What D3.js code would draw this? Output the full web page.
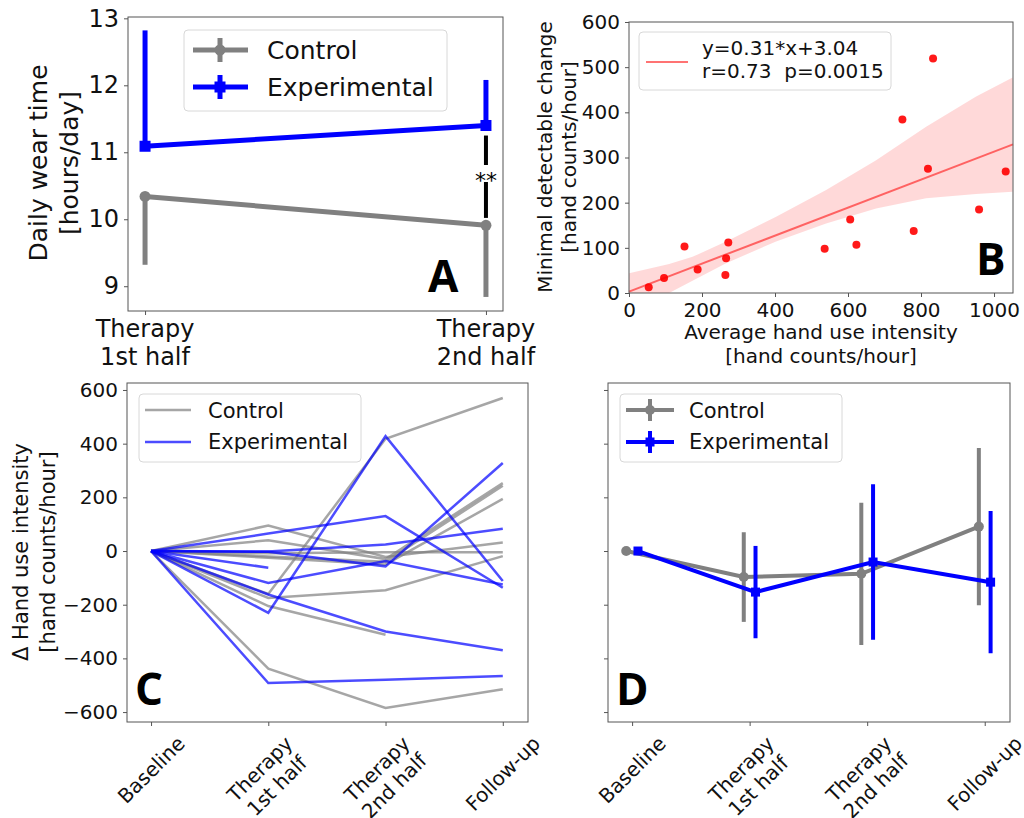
<!DOCTYPE html>
<html>
<head>
<meta charset="utf-8">
<script src="https://cdn.jsdelivr.net/npm/d3@7"></script>
<style>
body { margin: 0; background: #fff; }
svg { display: block; font-family: "DejaVu Sans", sans-serif; }
</style>
</head>
<body>
<svg id="fig" width="1024" height="818"></svg>
<script>
// panel A: daily wear time
const wearStages = ["Therapy\n1st half", "Therapy\n2nd half"];
const wearControl = [10.34, 9.91];
const wearControlErr = [1.02, 1.07];          // drawn below the mean only
const wearExperimental = [11.09, 11.40];
const wearExperimentalErr = [1.73, 0.68];     // drawn above the mean only
const wearTicks = [9, 10, 11, 12, 13];
const wearSignif = [10.02, 11.25];

// panel B: MDC vs intensity
const mdcX = [54, 96, 152, 188, 264, 266, 272, 536, 606, 623, 749, 780, 819, 833, 959, 1032];
const mdcY = [13, 33, 103, 52, 40, 77, 112, 98, 163, 107, 384, 137, 275, 519, 185, 269];
const fitSlope = 0.31, fitIntercept = 3.04;
const bandX = [0, 110, 174, 266, 403, 540, 677, 814, 951, 1051];
const bandLow = [-47, 0, 27, 66, 114, 154, 187, 210, 219, 224];
const bandHigh = [44, 64, 80, 114, 169, 228, 294, 368, 435, 477];
const mdcXTicks = [0, 200, 400, 600, 800, 1000];
const mdcYTicks = [0, 100, 200, 300, 400, 500, 600];

// panels C and D: change in hand use intensity
const timepoints = ["Baseline", "Therapy\n1st half", "Therapy\n2nd half", "Follow-up"];
const deltaTicks = [-600, -400, -200, 0, 200, 400, 600];
const controlSubjects = [
  [0, 95, -22, 32],
  [0, 40, -30, 253],
  [0, -160, 418, 570],
  [0, -175, -146, -19],
  [0, -205, -312, null],
  [0, -438, -585, -515],
  [0, -8, -5, -5],
  [0, -20, -40, 243],
  [0, -25, -50, 194]
];
const experimentalSubjects = [
  [0, 65, 130, -137],
  [0, -230, 428, -112],
  [0, -2, 24, 83],
  [0, -62, null, null],
  [0, -119, -37, -125],
  [0, -3, -57, 328],
  [0, -162, -300, -370],
  [0, -492, -480, -466]
];
const controlMean = [0, -97, -85, 91];
const controlErr = [0, 167, 265, 293];
const experimentalMean = [0, -153, -41, -116];
const experimentalErr = [0, 172, 290, 265];

const svg = d3.select("#fig");
const INK = "#111", SPINE = "#555";
const GRAY = "#808080", BLUE = "#0000ff";

function frame(x, y) {
  const [x0, x1] = x.range(), [y1, y0] = y.range();
  svg.append("rect")
    .attr("x", x0).attr("y", y0)
    .attr("width", x1 - x0).attr("height", y1 - y0)
    .attr("fill", "none").attr("stroke", SPINE).attr("stroke-width", 1);
}

function yAxis(y, x0, ticks, fs, showLabels) {
  const g = svg.append("g")
    .attr("transform", `translate(${x0},0)`)
    .call(d3.axisLeft(y).tickValues(ticks).tickSize(4).tickPadding(5)
      .tickFormat(showLabels ? d3.format("d") : ""));
  g.select(".domain").remove();
  g.attr("font-family", null).attr("font-size", fs);
  g.selectAll("line").attr("stroke", SPINE);
  g.selectAll("text").attr("fill", INK);
}

function xAxis(x, y0, ticks, fs, showLabels) {
  const g = svg.append("g")
    .attr("transform", `translate(0,${y0})`)
    .call(d3.axisBottom(x).tickValues(ticks).tickSize(4).tickPadding(6)
      .tickFormat(showLabels ? d3.format("d") : ""));
  g.select(".domain").remove();
  g.attr("font-family", null).attr("font-size", fs);
  g.selectAll("line").attr("stroke", SPINE);
  g.selectAll("text").attr("fill", INK);
}

// rotated (45deg) multi-line category labels, centred under each tick
function rotLabels(x, yTop, labels, fs) {
  labels.forEach((lab, i) => {
    const lines = lab.split("\n");
    const L = fs * 1.2;
    const g = svg.append("g");
    const t = g.append("text").attr("font-size", fs).attr("fill", INK).attr("text-anchor", "middle");
    lines.forEach((s, k) => {
      t.append("tspan").attr("x", 0)
        .attr("y", (k - (lines.length - 1) / 2) * L + 0.36 * fs).text(s);
    });
    const w = d3.max(t.selectAll("tspan").nodes(), n => n.getComputedTextLength());
    const hb = (lines.length - 1) * L + fs * 0.95;
    const half = (w + hb) / (2 * Math.SQRT2);
    g.attr("transform", `translate(${x(i)},${yTop + half}) rotate(-45)`);
  });
}

function rotTitle(bx, cy, lines, fs, gap) {
  const t = svg.append("text")
    .attr("transform", `translate(${bx},${cy}) rotate(-90)`)
    .attr("font-size", fs).attr("fill", INK).attr("text-anchor", "middle");
  lines.forEach((s, k) => t.append("tspan").attr("x", 0).attr("y", k * gap).text(s));
}

function panelLetter(x, y, s) {
  svg.append("text").attr("x", x).attr("y", y)
    .attr("font-family", "Open Sans, sans-serif").attr("font-weight", "bold")
    .attr("font-size", 44).attr("fill", "#000").text(s);
}

function legendBox(x, y, w, h) {
  svg.append("rect").attr("x", x).attr("y", y).attr("width", w).attr("height", h)
    .attr("rx", 4).attr("fill", "#fff").attr("fill-opacity", 0.8)
    .attr("stroke", "#d8d8d8").attr("stroke-width", 1);
}

function square(cx, cy, s, color) {
  svg.append("rect").attr("x", cx - s / 2).attr("y", cy - s / 2)
    .attr("width", s).attr("height", s).attr("fill", color);
}

// ---------- A ----------
const xA = d3.scaleLinear().domain([-0.05, 1.05]).range([128, 503]);
const yA = d3.scaleLinear().domain([8.63, 13.02]).range([311, 17]);
frame(xA, yA);
yAxis(yA, 128, wearTicks, 24, true);
xAxis(xA, 311, [0, 1], 24, false);
wearStages.forEach((lab, i) => {
  const t = svg.append("text").attr("font-size", 24).attr("fill", INK).attr("text-anchor", "middle");
  lab.split("\n").forEach((s, k) => t.append("tspan").attr("x", xA(i)).attr("y", 337 + k * 28).text(s));
});
rotTitle(47, 163, ["Daily wear time", "[hours/day]"], 25, 31);

const lineA = d3.line().x((d, i) => xA(i)).y(d => yA(d));
wearControl.forEach((v, i) => {
  svg.append("line").attr("x1", xA(i)).attr("x2", xA(i))
    .attr("y1", yA(v)).attr("y2", yA(v - wearControlErr[i]))
    .attr("stroke", GRAY).attr("stroke-width", 5);
});
svg.append("path").datum(wearControl).attr("d", lineA)
  .attr("fill", "none").attr("stroke", GRAY).attr("stroke-width", 5);
wearControl.forEach((v, i) => {
  svg.append("circle").attr("cx", xA(i)).attr("cy", yA(v)).attr("r", 5.5).attr("fill", GRAY);
});
wearExperimental.forEach((v, i) => {
  svg.append("line").attr("x1", xA(i)).attr("x2", xA(i))
    .attr("y1", yA(v)).attr("y2", yA(v + wearExperimentalErr[i]))
    .attr("stroke", BLUE).attr("stroke-width", 5);
});
svg.append("path").datum(wearExperimental).attr("d", lineA)
  .attr("fill", "none").attr("stroke", BLUE).attr("stroke-width", 5);
wearExperimental.forEach((v, i) => square(xA(i), yA(v), 11, BLUE));

// significance marker
svg.append("line").attr("x1", xA(1)).attr("x2", xA(1))
  .attr("y1", yA(wearSignif[1])).attr("y2", yA(wearSignif[0]))
  .attr("stroke", "#000").attr("stroke-width", 4);
svg.append("rect").attr("x", xA(1) - 14).attr("y", 165).attr("width", 28).attr("height", 17).attr("fill", "#fff");
svg.append("text").attr("x", xA(1)).attr("y", 188).attr("text-anchor", "middle")
  .attr("font-size", 22).attr("fill", "#000").text("**");

legendBox(184, 30, 263, 81);
svg.append("line").attr("x1", 193).attr("x2", 248).attr("y1", 50).attr("y2", 50).attr("stroke", GRAY).attr("stroke-width", 5);
svg.append("line").attr("x1", 220).attr("x2", 220).attr("y1", 38).attr("y2", 62).attr("stroke", GRAY).attr("stroke-width", 5);
svg.append("circle").attr("cx", 220).attr("cy", 50).attr("r", 5.5).attr("fill", GRAY);
svg.append("line").attr("x1", 193).attr("x2", 248).attr("y1", 87).attr("y2", 87).attr("stroke", BLUE).attr("stroke-width", 5);
svg.append("line").attr("x1", 220).attr("x2", 220).attr("y1", 75).attr("y2", 99).attr("stroke", BLUE).attr("stroke-width", 5);
square(220, 87, 11, BLUE);
svg.append("text").attr("x", 267).attr("y", 59).attr("font-size", 25).attr("fill", INK).text("Control");
svg.append("text").attr("x", 267).attr("y", 96).attr("font-size", 25).attr("fill", INK).text("Experimental");
panelLetter(428, 292, "A");

// ---------- B ----------
const xB = d3.scaleLinear().domain([0, 1052]).range([629, 1013]);
const yB = d3.scaleLinear().domain([0, 600]).range([293, 22]);
svg.append("clipPath").attr("id", "clipB").append("rect")
  .attr("x", 629).attr("y", 22).attr("width", 384).attr("height", 271);
const band = d3.area()
  .x((d, i) => xB(bandX[i]))
  .y0((d, i) => yB(bandLow[i]))
  .y1((d, i) => yB(bandHigh[i]));
svg.append("path").datum(bandX).attr("d", band).attr("clip-path", "url(#clipB)")
  .attr("fill", "#ff0000").attr("fill-opacity", 0.15);
const fitEnds = [0, 1052];
svg.append("line")
  .attr("x1", xB(fitEnds[0])).attr("y1", yB(fitSlope * fitEnds[0] + fitIntercept))
  .attr("x2", xB(fitEnds[1])).attr("y2", yB(fitSlope * fitEnds[1] + fitIntercept))
  .attr("stroke", "#ff0000").attr("stroke-opacity", 0.55).attr("stroke-width", 2);
svg.selectAll(".mdc").data(mdcX).enter().append("circle")
  .attr("cx", d => xB(d)).attr("cy", (d, i) => yB(mdcY[i])).attr("r", 4)
  .attr("fill", "#ff0000").attr("fill-opacity", 0.9);
frame(xB, yB);
yAxis(yB, 629, mdcYTicks, 20, true);
xAxis(xB, 293, mdcXTicks, 20, true);
svg.append("text").attr("font-size", 20).attr("fill", INK).attr("text-anchor", "middle")
  .call(t => {
    t.append("tspan").attr("x", 821).attr("y", 339).text("Average hand use intensity");
    t.append("tspan").attr("x", 821).attr("y", 363).text("[hand counts/hour]");
  });
rotTitle(552, 157, ["Minimal detectable change", "[hand counts/hour]"], 20, 24);
legendBox(639, 32, 252, 58);
svg.append("line").attr("x1", 646).attr("x2", 688).attr("y1", 62).attr("y2", 62)
  .attr("stroke", "#ff0000").attr("stroke-opacity", 0.55).attr("stroke-width", 2);
svg.append("text").attr("x", 702).attr("y", 55).attr("font-size", 20).attr("fill", INK)
  .text(`y=${fitSlope}*x+${fitIntercept.toFixed(2)}`);
svg.append("text").attr("x", 702).attr("y", 78).attr("font-size", 20).attr("fill", INK)
  .attr("xml:space", "preserve").text("r=0.73  p=0.0015");
panelLetter(976, 275, "B");

// ---------- C ----------
const xC = d3.scaleLinear().domain([-0.205, 3.215]).range([127, 528]);
const yC = d3.scaleLinear().domain([-637, 626]).range([722, 383]);
const lineC = d3.line().defined(d => d !== null).x((d, i) => xC(i)).y(d => yC(d));
controlSubjects.forEach(s => {
  svg.append("path").datum(s).attr("d", lineC).attr("fill", "none")
    .attr("stroke", GRAY).attr("stroke-opacity", 0.7).attr("stroke-width", 2.5);
});
experimentalSubjects.forEach(s => {
  svg.append("path").datum(s).attr("d", lineC).attr("fill", "none")
    .attr("stroke", BLUE).attr("stroke-opacity", 0.7).attr("stroke-width", 2.5);
});
frame(xC, yC);
yAxis(yC, 127, deltaTicks, 20, true);
xAxis(xC, 722, [0, 1, 2, 3], 20, false);
rotLabels(xC, 733, timepoints, 20);
rotTitle(28, 552, ["\u0394 Hand use intensity", "[hand counts/hour]"], 21, 27);
legendBox(139, 394, 222, 68);
svg.append("line").attr("x1", 145).attr("x2", 191).attr("y1", 410).attr("y2", 410)
  .attr("stroke", GRAY).attr("stroke-opacity", 0.7).attr("stroke-width", 2.5);
svg.append("line").attr("x1", 145).attr("x2", 191).attr("y1", 442).attr("y2", 442)
  .attr("stroke", BLUE).attr("stroke-opacity", 0.7).attr("stroke-width", 2.5);
svg.append("text").attr("x", 208).attr("y", 418).attr("font-size", 21).attr("fill", INK).text("Control");
svg.append("text").attr("x", 208).attr("y", 449).attr("font-size", 21).attr("fill", INK).text("Experimental");
panelLetter(135, 705, "C");

// ---------- D ----------
const xD = d3.scaleLinear().domain([-0.205, 3.215]).range([608, 1010]);
const yD = d3.scaleLinear().domain([-637, 626]).range([722, 383]);
const groupsD = [
  { mean: controlMean, err: controlErr, color: GRAY, shift: -0.05, marker: "circle" },
  { mean: experimentalMean, err: experimentalErr, color: BLUE, shift: 0.05, marker: "square" }
];
groupsD.forEach(gr => {
  gr.mean.forEach((v, i) => {
    if (gr.err[i] > 0) {
      svg.append("line").attr("x1", xD(i + gr.shift)).attr("x2", xD(i + gr.shift))
        .attr("y1", yD(v - gr.err[i])).attr("y2", yD(v + gr.err[i]))
        .attr("stroke", gr.color).attr("stroke-width", 4);
    }
  });
  svg.append("path").datum(gr.mean)
    .attr("d", d3.line().x((d, i) => xD(i + gr.shift)).y(d => yD(d)))
    .attr("fill", "none").attr("stroke", gr.color).attr("stroke-width", 4);
  gr.mean.forEach((v, i) => {
    if (gr.marker === "circle") {
      svg.append("circle").attr("cx", xD(i + gr.shift)).attr("cy", yD(v)).attr("r", 5).attr("fill", gr.color);
    } else {
      square(xD(i + gr.shift), yD(v), 9, gr.color);
    }
  });
});
frame(xD, yD);
yAxis(yD, 608, deltaTicks, 20, false);
xAxis(xD, 722, [0, 1, 2, 3], 20, false);
rotLabels(xD, 733, timepoints, 20);
legendBox(620, 394, 222, 68);
svg.append("line").attr("x1", 626).attr("x2", 674).attr("y1", 410).attr("y2", 410).attr("stroke", GRAY).attr("stroke-width", 4);
svg.append("line").attr("x1", 650).attr("x2", 650).attr("y1", 399).attr("y2", 421).attr("stroke", GRAY).attr("stroke-width", 4);
svg.append("circle").attr("cx", 650).attr("cy", 410).attr("r", 5).attr("fill", GRAY);
svg.append("line").attr("x1", 626).attr("x2", 674).attr("y1", 442).attr("y2", 442).attr("stroke", BLUE).attr("stroke-width", 4);
svg.append("line").attr("x1", 650).attr("x2", 650).attr("y1", 431).attr("y2", 453).attr("stroke", BLUE).attr("stroke-width", 4);
square(650, 442, 9, BLUE);
svg.append("text").attr("x", 689).attr("y", 418).attr("font-size", 21).attr("fill", INK).text("Control");
svg.append("text").attr("x", 689).attr("y", 449).attr("font-size", 21).attr("fill", INK).text("Experimental");
panelLetter(616, 705, "D");
</script>
</body>
</html>
